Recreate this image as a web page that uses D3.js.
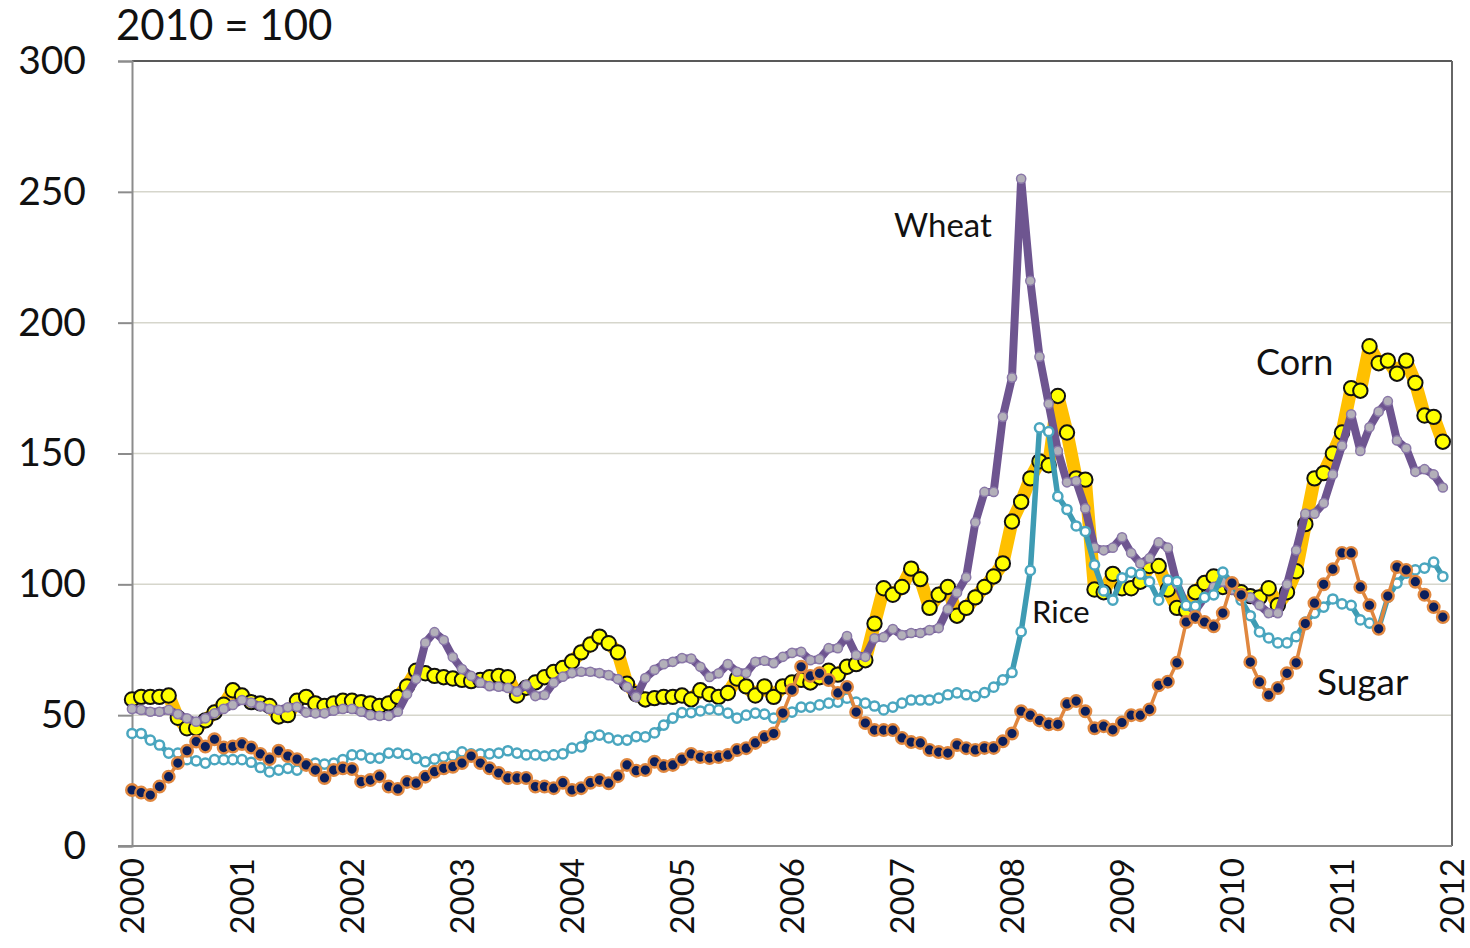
<!DOCTYPE html>
<html><head><meta charset="utf-8">
<script src="https://cdn.jsdelivr.net/npm/d3@7"></script>
<style>
body{margin:0;background:#fff}
text{font-family:Lato,'Open Sans',sans-serif}
</style>
</head><body>
<svg id="chart" width="1470" height="948"></svg>
<script>
// ---- data (monthly, Jan 2000 - Dec 2011, index 2010 = 100) ----
const yearLabels = [2000,2001,2002,2003,2004,2005,2006,2007,2008,2009,2010,2011,2012];
const yTickValues = [0,50,100,150,200,250,300];
const titleText = "2010 = 100";

const corn = [
 56,57,57,57,57.5,49,45,45,48,51,54,59.5,
 57.5,55,54.5,53.5,49.5,50,55.5,57,54.5,53.5,54.5,55.5,
 55.5,55,54.5,53.5,54.5,57,61,67,66,65,64.5,64,
 63.5,63,63.5,64.5,65,64.5,57.5,60.5,62.5,64.5,66.5,68,
 70.5,74,77,80,77.5,74,62,58,56,56.5,57,57,
 57.5,56,59.5,58,57,58.5,64,61,57.5,61,57,61,
 62.5,63.5,62.5,64.5,67,65.5,68.5,69.5,71,85,98.5,96,
 99,106,102,91,96,99,88,91,95,99,103,108,
 124,131.5,140.5,147,145.5,172,158,140.5,140,98,97,104,
 98.5,98.5,101,107,107,98,91,90,97,100.5,103,99,
 99,97,95.5,95,98.5,92,97,105,123,140.5,142.5,150,
 158,175,174,191,184.5,185.5,180.5,185.5,177,164.5,164,154.5
];
const wheat = [
 52.4,52,51.3,51.3,52,50.4,48.8,47.5,48.8,50.7,52.4,53.9,
 55.8,54.8,53.5,52.4,52,53,53.2,51,50.7,50.7,51.7,52.4,
 52.4,51.3,50,49.7,49.7,51.3,58,63.8,77.7,81.7,78.7,72.2,
 67.6,65,62.4,61.1,60.9,60.4,59,61.5,57.3,57.7,62.4,64.7,
 66.1,66.6,66.6,66.1,65.3,63.8,60.8,57,64.2,67.3,69.5,70.4,
 71.8,71.6,68.5,64.6,66,69.5,66.6,66.1,70.4,70.8,69.9,72.3,
 73.8,74.2,71,71.4,75.6,75.6,80.2,73,72.3,79.4,79.8,82.9,
 80.6,81.4,81.4,82.5,83.3,90.5,96.8,102.7,123.7,135.3,135.3,164,
 179,255,216,187,169,151,139,139.5,129,114,113,114,
 118,112,108,110,116,114,100,92,90,95,99,101,
 98,96,95,92,89,89,100,113,127,127,131,142,
 153,165,151,160,166,170,155,152,143,144,142,137
];
const rice = [
 43,43,40.5,38.6,35.5,35.5,33,32.5,31.7,33,33,33,
 33,32,30,28.3,29,29.7,29,31,31.7,31.3,31.7,33,
 34.8,34.8,33.6,33.6,35.5,35.5,35,33.5,32.2,33.2,34,34.4,
 36,35.2,35.2,35.2,35.5,36.4,35.5,34.8,34.8,34.4,34.8,35.2,
 37.4,37.9,41.8,42.4,41.3,40.5,40.5,41.8,41.7,43.2,46.2,48.9,
 51,51,51.6,52.3,52,50.8,48.9,50,50.8,50.4,48.9,49.3,
 51.2,53.1,53.1,53.9,54.6,55,56.5,55,54.6,53.5,52,53.1,
 54.6,55.8,55.8,55.8,56.5,57.8,58.5,57.8,57.2,58.6,60.7,63.5,
 66.3,81.9,105.3,159.8,158.4,133.6,128.6,122.3,120.2,107.4,97.5,94,
 102.5,104.6,103.9,101,94,101.6,101,92,91.7,95,96,104.7,
 100.5,94,88,81.8,79.5,77.6,77.6,80,85.6,89,91.3,94.4,
 92.5,92,86.4,85.2,83.3,95,100.5,104.3,105.5,106.2,108.5,103
];
const sugar = [
 21.4,20.4,19.5,22.7,26.5,31.7,36.4,39.9,38,40.8,37.6,38,
 39,37.6,35.2,33.2,36.4,34.4,33.2,31,29,26,29,29.7,
 29.4,24.6,25.2,26.7,22.7,21.8,24.5,24,26.5,28.4,29.7,30.3,
 31.7,34.4,31.7,29.7,27.9,26,26,26,22.7,22.7,22.1,24.2,
 21.4,22.1,24.2,25.2,24,26.7,31,28.8,29,32.2,30.6,31,
 33.2,35.2,34,33.6,34,34.8,36.7,37.4,39.4,41.7,43,50.8,
 59.6,68.5,65,66,63.4,58.5,60.8,51.2,47,44.3,44.3,44.3,
 41.3,39.7,39.4,36.7,35.9,35.5,38.6,37.4,36.7,37.5,37.5,40,
 43,51.5,50,48,46.5,46.5,54.3,55.4,51.5,45,45.8,44.4,
 47.2,50,50,52.2,61.4,62.8,70,85.6,87.5,85.6,84,89,
 100.5,96,70.3,62.7,57.7,60.4,66,70,85,92.8,100,105.8,
 112,112,99,92,83,95.5,106.6,105.5,101,96,91.3,87.5
];

// ---- layout ----
const svg = d3.select("#chart");
const plotL = 132, plotR = 1452, plotT = 61, plotB = 846;
const x = d3.scaleLinear().domain([2000, 2012]).range([plotL, plotR]);
const y = d3.scaleLinear().domain([0, 300]).range([plotB, plotT]);
const xAt = i => x(2000 + i / 12);

// gridlines
svg.append("g").selectAll("line")
  .data(yTickValues.filter(v => v > 0 && v < 300))
  .join("line")
  .attr("x1", plotL).attr("x2", plotR)
  .attr("y1", d => y(d)).attr("y2", d => y(d))
  .attr("stroke", "#d6d6cc").attr("stroke-width", 1.5);

// plot border top/right
svg.append("line").attr("x1", plotL).attr("x2", plotR).attr("y1", plotT).attr("y2", plotT)
  .attr("stroke", "#222").attr("stroke-width", 1.5);
svg.append("line").attr("x1", plotR).attr("x2", plotR).attr("y1", plotT).attr("y2", plotB)
  .attr("stroke", "#666").attr("stroke-width", 2);

// y axis
const yAxis = svg.append("g").attr("transform", `translate(${plotL},0)`)
  .call(d3.axisLeft(y).tickValues(yTickValues).tickSize(14).tickPadding(32).tickFormat(d3.format("d")));
yAxis.select(".domain").attr("stroke", "#8c8c8c").attr("stroke-width", 2);
yAxis.selectAll(".tick line").attr("stroke", "#8c8c8c").attr("stroke-width", 2);
yAxis.selectAll("text").attr("font-size", 39).attr("fill", "#111")
  .style("font-family", "Lato, 'Open Sans', sans-serif");

// x axis
const xAxis = svg.append("g").attr("transform", `translate(0,${plotB})`)
  .call(d3.axisBottom(x).tickValues(yearLabels).tickSize(0).tickFormat(d3.format("d")));
xAxis.select(".domain").attr("stroke", "#8c8c8c").attr("stroke-width", 2)
  .attr("d", `M${plotL - 14},0H${plotR}`);
xAxis.selectAll("text")
  .attr("transform", "rotate(-90)")
  .attr("x", -12).attr("y", 0).attr("dy", "0.34em")
  .attr("text-anchor", "end")
  .attr("font-size", 33).attr("fill", "#111")
  .style("font-family", "Lato, 'Open Sans', sans-serif");

// title
svg.append("text").attr("x", 116).attr("y", 40).attr("font-size", 42).attr("fill", "#111")
  .text(titleText);

// series
const line = d3.line().x((d, i) => xAt(i)).y(d => y(d));
const series = [
  {name:"Corn", data:corn, lc:"#ffc000", lw:13, r:7.2, fill:"#ffff00", stroke:"#111", sw:2},
  {name:"Wheat", data:wheat, lc:"#6e5590", lw:8, r:4.6, fill:"#b3b0b9", stroke:"#8a78a8", sw:1.5},
  {name:"Rice", data:rice, lc:"#3e9bb3", lw:5.5, r:4.6, fill:"#ffffff", stroke:"#4aa6bf", sw:2.5},
  {name:"Sugar", data:sugar, lc:"#e0873f", lw:3.5, r:5.8, fill:"#0b1f5c", stroke:"#e0873f", sw:2.4}
];
series.forEach(s => {
  const g = svg.append("g");
  g.append("path").datum(s.data).attr("d", line)
    .attr("fill", "none").attr("stroke", s.lc).attr("stroke-width", s.lw)
    .attr("stroke-linejoin", "round").attr("stroke-linecap", "round");
  g.selectAll("circle").data(s.data).join("circle")
    .attr("cx", (d, i) => xAt(i)).attr("cy", d => y(d)).attr("r", s.r)
    .attr("fill", s.fill).attr("stroke", s.stroke).attr("stroke-width", s.sw);
});

// series labels
const labels = [
  {t:"Wheat", x:894, y:237, s:33},
  {t:"Corn", x:1256, y:375, s:36},
  {t:"Rice", x:1032, y:623, s:31},
  {t:"Sugar", x:1317, y:695, s:37}
];
svg.append("g").selectAll("text").data(labels).join("text")
  .attr("x", d => d.x).attr("y", d => d.y).attr("font-size", d => d.s)
  .attr("fill", "#111").text(d => d.t);
</script>
</body></html>
